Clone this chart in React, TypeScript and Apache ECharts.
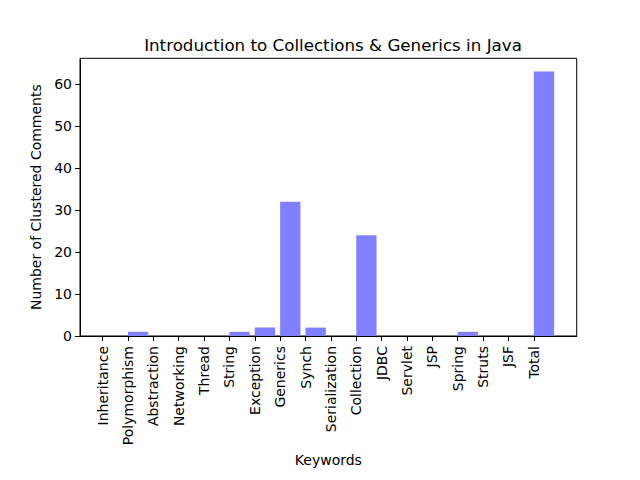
import React, { useEffect, useRef } from "react";
import * as echarts from "echarts";

const categories = [
  "Inheritance", "Polymorphism", "Abstraction", "Networking", "Thread", "String",
  "Exception", "Generics", "Synch", "Serialization", "Collection", "JDBC",
  "Servlet", "JSP", "Spring", "Struts", "JSF", "Total",
];
const values = [0, 1, 0, 0, 0, 1, 2, 32, 2, 0, 24, 0, 0, 0, 1, 0, 0, 63];
const yTicks = [0, 10, 20, 30, 40, 50, 60];

const BAR_W = 0.8;

export default function App() {
  const ref = useRef<HTMLDivElement>(null);
  useEffect(() => {
    if (!ref.current) return;
    const chart = echarts.init(ref.current, undefined, { renderer: "svg" });
    const idx = categories.map((_, i) => i);
    const xMin = -0.05 * (categories.length - 1 + BAR_W);
    const xMax = categories.length - 1 + BAR_W - xMin;
    const yMax = Math.max(...values) * 1.05;
    const font = "DejaVu Sans";
    chart.setOption({
      animation: false,
      textStyle: { fontFamily: font },
      title: {
        text: "Introduction to Collections & Generics in Java",
        left: 328,
        top: 31,
        textAlign: "center",
        textStyle: { fontFamily: font, fontSize: 16.7, fontWeight: "normal", color: "#000" },
      },
      grid: {
        left: 80,
        right: 63.3,
        top: 58.3,
        bottom: 144,
        show: true,
        borderColor: "#000",
        borderWidth: 1,
        backgroundColor: "transparent",
      },
      xAxis: {
        type: "value",
        min: xMin,
        max: xMax,
        name: "Keywords",
        nameLocation: "middle",
        nameGap: 111,
        nameTextStyle: { fontFamily: font, fontSize: 14, color: "#000" },
        axisLine: { show: true, onZero: false, lineStyle: { color: "#000", width: 1 } },
        axisTick: { show: true, length: 5, lineStyle: { color: "#000" }, customValues: idx },
        axisLabel: {
          show: true,
          rotate: 90,
          margin: 10,
          fontSize: 14,
          color: "#000",
          fontFamily: font,
          customValues: idx,
          formatter: (v: number) => categories[Math.round(v)] ?? "",
        },
        splitLine: { show: false },
      },
      yAxis: {
        type: "value",
        min: 0,
        max: yMax,
        name: "Number of Clustered Comments",
        nameLocation: "middle",
        nameGap: 34,
        nameTextStyle: { fontFamily: font, fontSize: 14, color: "#000" },
        axisLine: { show: true, onZero: false, lineStyle: { color: "#000", width: 1 } },
        axisTick: { show: true, length: 5, lineStyle: { color: "#000" }, customValues: yTicks },
        axisLabel: {
          show: true,
          margin: 8,
          fontSize: 14,
          color: "#000",
          fontFamily: font,
          customValues: yTicks,
        },
        splitLine: { show: false },
      },
      series: [
        {
          type: "bar",
          data: values.map((v, i) => [i + BAR_W / 2, v]),
          barWidth: 20.3,
          itemStyle: { color: "#8080ff" },
        },
      ],
    });
    return () => chart.dispose();
  }, []);
  return <div ref={ref} style={{ width: 640, height: 480, margin: -8 }} />;
}
